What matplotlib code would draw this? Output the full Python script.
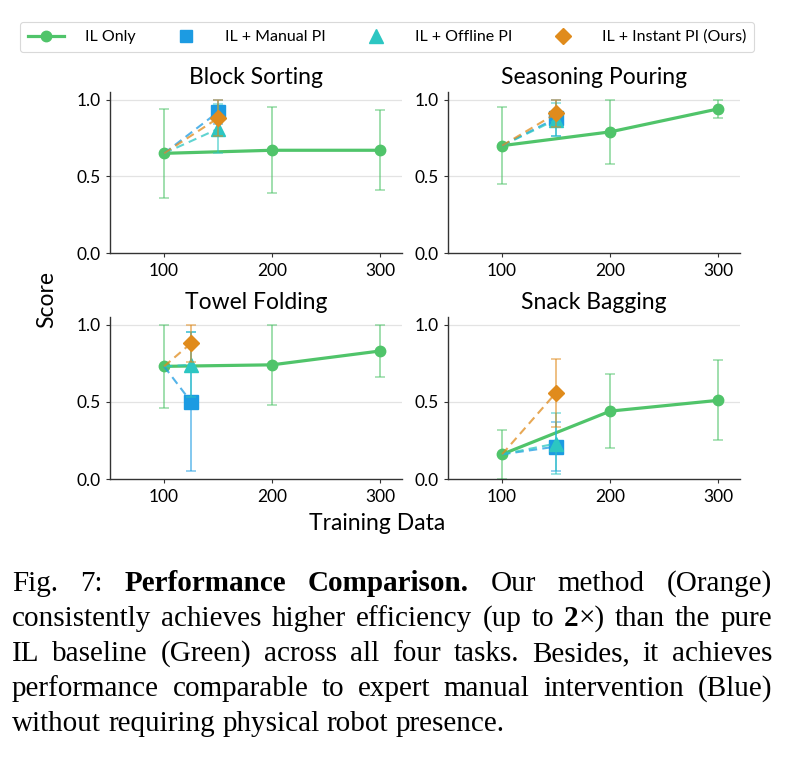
import matplotlib
matplotlib.use("Agg")
import matplotlib.pyplot as plt
from matplotlib.lines import Line2D

# ---------------- data ----------------
tasks = ["Block Sorting", "Seasoning Pouring", "Towel Folding", "Snack Bagging"]
il_x = [100, 200, 300]
il_mean = [[0.65, 0.67, 0.67],
           [0.70, 0.79, 0.94],
           [0.73, 0.74, 0.83],
           [0.16, 0.44, 0.51]]
il_err = [[0.29, 0.28, 0.26],
          [0.25, 0.21, 0.06],
          [0.27, 0.26, 0.17],
          [0.16, 0.24, 0.26]]
pi_x = [150, 150, 125, 150]
manual_mean = [0.92, 0.88, 0.50, 0.21]
manual_err = [0.08, 0.12, 0.45, 0.16]
offline_mean = [0.81, 0.87, 0.74, 0.23]
offline_err = [0.16, 0.11, 0.21, 0.20]
instant_mean = [0.88, 0.91, 0.88, 0.56]
instant_err = [0.12, 0.09, 0.12, 0.22]
legend_labels = ["IL Only", "IL + Manual PI", "IL + Offline PI", "IL + Instant PI (Ours)"]
x_ticks = [100, 200, 300]
y_ticks = [0.0, 0.5, 1.0]
y_ticklabels = ["0.0", "0.5", "1.0"]

GREEN = "#50C46A"
BLUE = "#1C9BE2"
CYAN = "#2CC6C2"
ORANGE = "#E08B1C"

SANS = ["Lato", "DejaVu Sans"]
plt.rcParams["font.family"] = SANS

W, H = 785, 757
fig = plt.figure(figsize=(W / 100, H / 100), dpi=100)

def px_axes(x0, y0, x1, y1):
    return fig.add_axes([x0 / W, 1 - y1 / H, (x1 - x0) / W, (y1 - y0) / H])

boxes = [(110, 92, 402, 253), (448, 92, 740, 253),
         (110, 317, 402, 479), (448, 317, 740, 479)]

pi_series = [(manual_mean, manual_err, BLUE, "s", 9.5),
             (offline_mean, offline_err, CYAN, "^", 10.0),
             (instant_mean, instant_err, ORANGE, "D", 8.5)]

for i, box in enumerate(boxes):
    ax = px_axes(*box)
    ax.set_xlim(50, 320)
    ax.set_ylim(0, 1.05)
    for yv in y_ticks[1:]:
        ax.axhline(yv, color="#e3e3e3", lw=0.9, zorder=0)
    # IL only
    ax.errorbar(il_x, il_mean[i], yerr=il_err[i], fmt="none", ecolor=GREEN,
                alpha=0.55, elinewidth=1.4, capsize=3.5, capthick=1.2, zorder=2)
    ax.plot(il_x, il_mean[i], color=GREEN, lw=2.3, marker="o", ms=7.5, zorder=3)
    # PI variants
    for k, (m, e, c, mk, ms) in enumerate(pi_series):
        ax.plot([il_x[0], pi_x[i]], [il_mean[i][0], m[i]], ls=(0, (4, 2.5)),
                color=c, lw=1.5, alpha=0.75, zorder=4 + k)
        ax.errorbar([pi_x[i]], [m[i]], yerr=[e[i]], fmt="none", ecolor=c,
                    alpha=0.55, elinewidth=1.4, capsize=3.5, capthick=1.2, zorder=4 + k)
        ax.plot([pi_x[i]], [m[i]], ls="none", marker=mk, ms=ms, color=c, zorder=5 + k)
    ax.set_xticks(x_ticks)
    ax.set_yticks(y_ticks)
    ax.set_yticklabels(y_ticklabels)
    ax.tick_params(labelsize=12.5, length=3, width=0.8, color="#333333", pad=4)
    for s in ["top", "right"]:
        ax.spines[s].set_visible(False)
    for s in ["left", "bottom"]:
        ax.spines[s].set_color("#333333")
        ax.spines[s].set_linewidth(1.0)
    ax.set_title(tasks[i], fontsize=16.5, pad=6)

fig.text(47 / W, 1 - 300 / H, "Score", rotation=90, fontsize=16.5, ha="center", va="center")
fig.text(377 / W, 1 - 524 / H, "Training Data", fontsize=16.5, ha="center", va="center")

handles = [Line2D([], [], color=GREEN, lw=2.3, marker="o", ms=7.5),
           Line2D([], [], ls="none", color=BLUE, marker="s", ms=9),
           Line2D([], [], ls="none", color=CYAN, marker="^", ms=9.5),
           Line2D([], [], ls="none", color=ORANGE, marker="D", ms=8)]
leg = fig.legend(handles, legend_labels, ncol=4, loc="center",
                 bbox_to_anchor=(387 / W, 1 - 37 / H), fontsize=11.5,
                 handlelength=2.3, handletextpad=1.3, columnspacing=2.0,
                 frameon=True, fancybox=True, borderpad=0.5)
leg.get_frame().set_edgecolor("#d0d0d0")
leg.get_frame().set_linewidth(0.8)

# ---------------- caption (justified) ----------------
SERIF = ["Liberation Serif", "DejaVu Serif"]
CAP_FS = 21
lines = [
    [[("Fig.", "normal")], [("7:", "normal")], [("Performance", "bold")],
     [("Comparison.", "bold")], [("Our", "normal")], [("method", "normal")],
     [("(Orange)", "normal")]],
    [[("consistently", "normal")], [("achieves", "normal")], [("higher", "normal")],
     [("efficiency", "normal")], [("(up", "normal")], [("to", "normal")],
     [("2", "bold"), ("\u00d7)", "normal")], [("than", "normal")], [("the", "normal")],
     [("pure", "normal")]],
    [[(w, "normal")] for w in "IL baseline (Green) across all four tasks. Besides, it achieves".split()],
    [[(w, "normal")] for w in "performance comparable to expert manual intervention (Blue)".split()],
    [[(w, "normal")] for w in "without requiring physical robot presence.".split()],
]
baselines = [591, 626, 661, 696, 731]
left_px, right_px = 12, 772
renderer = fig.canvas.get_renderer()

def seg_width(txt, weight):
    t = fig.text(0, 0, txt, fontsize=CAP_FS, family=SERIF, weight=weight)
    w = t.get_window_extent(renderer).width
    t.remove()
    return w

space_w = CAP_FS * 100 / 72 * 0.25
for li, words in enumerate(lines):
    widths = [[seg_width(s, wt) for s, wt in word] for word in words]
    totals = [sum(w) for w in widths]
    if li < len(lines) - 1:
        gap = (right_px - left_px - sum(totals)) / (len(words) - 1)
    else:
        gap = space_w
    x = left_px
    y = 1 - baselines[li] / H
    for word, ws, tot in zip(words, widths, totals):
        xx = x
        for (s, wt), w in zip(word, ws):
            fig.text(xx / W, y, s, fontsize=CAP_FS, family=SERIF, weight=wt,
                     ha="left", va="baseline")
            xx += w
        x += tot + gap

fig.savefig("out.png", dpi=100)
